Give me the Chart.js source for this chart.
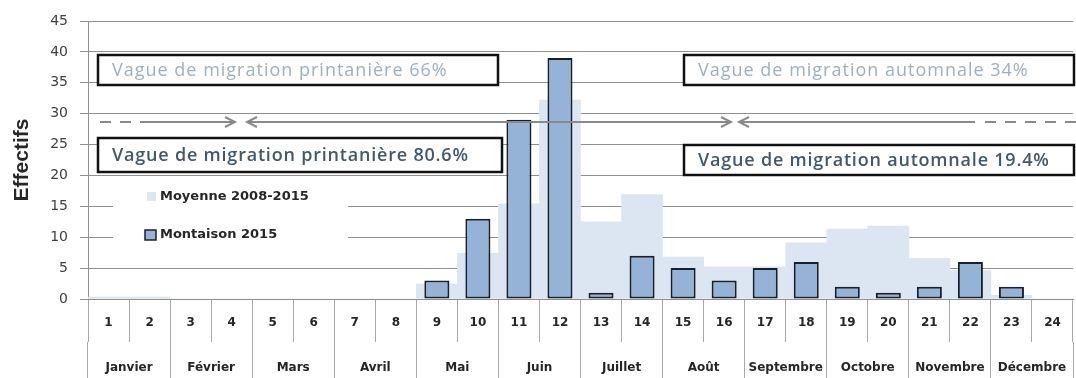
<!DOCTYPE html>
<html lang="fr">
<head>
<meta charset="utf-8">
<title>Effectifs – Montaison 2015</title>
<script src="https://cdn.jsdelivr.net/npm/chart.js@4.4.1/dist/chart.umd.min.js"></script>
<style>
  html, body { margin: 0; padding: 0; background: #fff; }
  canvas { display: block; }
</style>
</head>
<body>
<canvas id="graphique" width="1076" height="378"></canvas>
<script>
// Semaines (2 par mois) et mois de l'année
const SEMAINES = ['1', '2', '3', '4', '5', '6', '7', '8', '9', '10', '11', '12',
    '13', '14', '15', '16', '17', '18', '19', '20', '21', '22', '23', '24'];
const MOIS = ['Janvier', 'Février', 'Mars', 'Avril', 'Mai', 'Juin', 'Juillet',
    'Août', 'Septembre', 'Octobre', 'Novembre', 'Décembre'];

// Effectifs par semaine
const MOYENNE_2008_2015 = [0.3, 0.3, 0, 0, 0, 0, 0, 0, 2.4, 7.4, 15.4, 32.2,
    12.5, 16.9, 6.8, 5.2, 5.2, 9.1, 11.3, 11.8, 6.6, 4.6, 0.6, 0];
const MONTAISON_2015 = [0, 0, 0, 0, 0, 0, 0, 0, 3, 13, 29, 39,
    1, 7, 5, 3, 5, 6, 2, 1, 2, 6, 2, 0];

const Y_MAX = 45;
const Y_PAS = 5;

// Encadrés des vagues de migration
const ENCADRES = [
    { texte: 'Vague de migration printanière 66%', x: 98, y: 55, l: 400, h: 30, couleur: '#9cb0c0', graisse: '400', espace: 1 },
    { texte: 'Vague de migration printanière 80.6%', x: 98, y: 138, l: 404, h: 34, couleur: '#42586b', graisse: '600', espace: 0.8 },
    { texte: 'Vague de migration automnale 34%', x: 684, y: 55, l: 390, h: 30, couleur: '#9cb0c0', graisse: '400', espace: 1 },
    { texte: 'Vague de migration automnale 19.4%', x: 684, y: 145, l: 390, h: 30, couleur: '#42586b', graisse: '600', espace: 0.8 },
];

// Flèches (y commun), segments pointillés puis pleins
const Y_FLECHES = 122;
const FLECHES = [
    { tirets: [100, 136], trait: [140, 235], pointes: ['droite'] },
    { trait: [247, 731], pointes: ['gauche', 'droite'] },
    { trait: [739, 975], tirets: [985, 1076], pointes: ['gauche'] },
];

function pointe(ctx, x, y, sens) {
    const d = sens === 'droite' ? -1 : 1;
    ctx.beginPath();
    ctx.moveTo(x + d * 10, y - 5);
    ctx.lineTo(x, y);
    ctx.lineTo(x + d * 10, y + 5);
    ctx.stroke();
}

const annotations = {
    id: 'annotations',
    afterDatasetsDraw(chart) {
        const ctx = chart.ctx;
        ctx.save();

        // flèches
        ctx.strokeStyle = '#8a8a8a';
        ctx.lineWidth = 2;
        for (const f of FLECHES) {
            if (f.tirets) {
                ctx.setLineDash([11, 9]);
                ctx.beginPath();
                ctx.moveTo(f.tirets[0], Y_FLECHES);
                ctx.lineTo(f.tirets[1], Y_FLECHES);
                ctx.stroke();
                ctx.setLineDash([]);
            }
            ctx.beginPath();
            ctx.moveTo(f.trait[0], Y_FLECHES);
            ctx.lineTo(f.trait[1], Y_FLECHES);
            ctx.stroke();
            for (const p of f.pointes) {
                pointe(ctx, p === 'droite' ? f.trait[1] : f.trait[0], Y_FLECHES, p);
            }
        }

        // encadrés
        for (const e of ENCADRES) {
            ctx.fillStyle = '#fff';
            ctx.fillRect(e.x, e.y, e.l, e.h);
            ctx.strokeStyle = '#111';
            ctx.lineWidth = 2.5;
            ctx.strokeRect(e.x, e.y, e.l, e.h);
            ctx.fillStyle = e.couleur;
            ctx.font = `${e.graisse} 18px "Open Sans"`;
            ctx.letterSpacing = `${e.espace}px`;
            ctx.textBaseline = 'middle';
            ctx.fillText(e.texte, e.x + 14, e.y + e.h / 2 + 1);
        }
        ctx.letterSpacing = '0px';

        // légende dans la zone du graphique
        ctx.fillStyle = '#fff';
        ctx.fillRect(113, 183, 235, 68);
        const lignes = [197, 235];
        ctx.font = 'bold 13px "DejaVu Sans"';
        ctx.textBaseline = 'middle';
        chart.data.datasets.forEach((ds, k) => {
            const y = lignes[k];
            ctx.fillStyle = ds.backgroundColor;
            if (ds.borderWidth) {
                ctx.fillRect(145, y - 5, 11, 10);
                ctx.strokeStyle = ds.borderColor;
                ctx.lineWidth = 1.5;
                ctx.strokeRect(145, y - 5, 11, 10);
            } else {
                ctx.fillRect(147, y - 5, 9, 9);
            }
            ctx.fillStyle = '#262626';
            ctx.fillText(ds.label, 160, y);
        });

        ctx.restore();
    },
};

const GRIS = '#8f8f8f';

new Chart(document.getElementById('graphique'), {
    type: 'bar',
    data: {
        labels: SEMAINES,
        datasets: [
            {
                label: 'Moyenne 2008-2015',
                data: MOYENNE_2008_2015,
                backgroundColor: '#dce6f2',
                borderWidth: 0,
                barPercentage: 1,
                categoryPercentage: 1,
                grouped: false,
                order: 1,
            },
            {
                label: 'Montaison 2015',
                data: MONTAISON_2015,
                backgroundColor: '#95b3d7',
                borderColor: '#18202c',
                borderWidth: 2,
                borderSkipped: false,
                barPercentage: 0.61,
                categoryPercentage: 1,
                grouped: false,
                order: 0,
            },
        ],
    },
    options: {
        responsive: false,
        animation: false,
        layout: { padding: { top: 21, right: 3, left: 0, bottom: 0 } },
        plugins: {
            legend: { display: false },
            tooltip: { enabled: false },
        },
        scales: {
            x: {
                grid: { drawOnChartArea: false, tickLength: 43, color: '#a8a8a8', offset: true },
                border: { color: GRIS },
                ticks: {
                    color: '#262626',
                    font: { family: 'DejaVu Sans', size: 12, weight: 'bold' },
                    padding: -26,
                    maxRotation: 0,
                    autoSkip: false,
                },
                afterFit: (s) => { s.height = 43; },
            },
            mois: {
                type: 'category',
                labels: MOIS,
                position: 'bottom',
                weight: 1,
                grid: { drawOnChartArea: false, tickLength: 36, color: '#a8a8a8', offset: true },
                border: { display: false },
                ticks: {
                    color: '#262626',
                    font: { family: 'DejaVu Sans', size: 12, weight: 'bold' },
                    padding: -17,
                    maxRotation: 0,
                    autoSkip: false,
                },
                afterFit: (s) => { s.height = 36; },
            },
            y: {
                min: 0,
                max: Y_MAX,
                ticks: {
                    stepSize: Y_PAS,
                    color: '#404040',
                    font: { family: 'DejaVu Sans', size: 14 },
                    padding: 12,
                },
                grid: { color: GRIS, tickLength: 8 },
                border: { color: GRIS },
                title: {
                    display: true,
                    text: 'Effectifs',
                    color: '#262626',
                    font: { family: "'Liberation Sans Narrow', 'Liberation Sans'", size: 21, weight: 'bold' },
                    padding: { top: 10, bottom: 0 },
                },
                afterFit: (s) => { s.width = 88; },
            },
        },
    },
    plugins: [annotations],
});
</script>
</body>
</html>
